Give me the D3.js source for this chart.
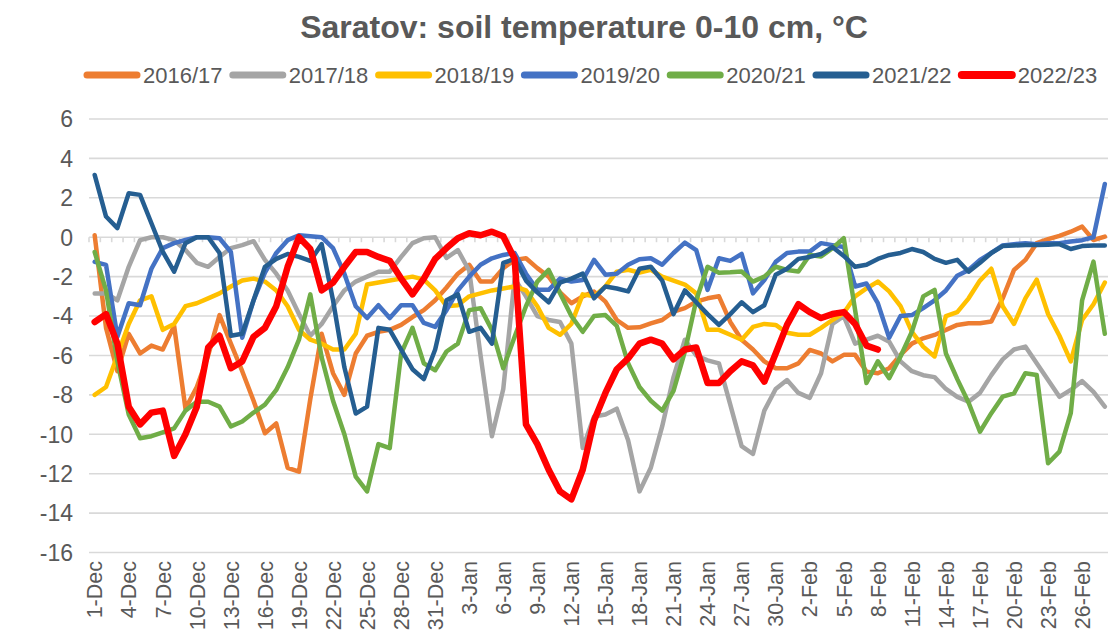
<!DOCTYPE html>
<html>
<head>
<meta charset="utf-8">
<script src="https://cdn.jsdelivr.net/npm/d3@7"></script>
<style>
  body { margin: 0; background: #fff; }
  svg { display: block; font-family: "Liberation Sans", Arial, sans-serif; }
</style>
</head>
<body>
<svg id="chart" width="1108" height="635"></svg>
<script>
// Saratov soil temperature 0-10 cm, daily values Dec-Feb per season

var seasons = ["2016/17", "2017/18", "2018/19", "2019/20", "2020/21", "2021/22", "2022/23"];
var colors = ["#ED7D31", "#A5A5A5", "#FFC000", "#4472C4", "#70AD47", "#255E91", "#FF0000"];

var s1617 = [0.1,-4.6,-6.8,-4.9,-5.9,-5.5,-5.7,-4.5,-8.7,-7.6,
  -6.0,-3.95,-5.4,-6.8,-8.3,-9.95,-9.45,-11.7,-11.9,-8.2,
  -4.9,-6.9,-8.0,-5.9,-5.0,-4.8,-4.7,-4.45,-4.05,-3.7,
  -3.2,-2.55,-1.85,-1.4,-2.25,-2.25,-1.57,-1.15,-1.07,-1.57,
  -2.0,-2.8,-3.35,-3.0,-2.76,-3.27,-4.2,-4.6,-4.57,-4.37,
  -4.2,-3.78,-3.6,-3.27,-3.1,-3.0,-4.3,-5.2,-5.7,-6.3,
  -6.65,-6.65,-6.4,-5.72,-5.9,-6.3,-5.97,-5.97,-6.82,-6.9,
  -6.65,-5.97,-5.4,-5.13,-4.96,-4.7,-4.45,-4.37,-4.37,-4.28,
  -3.1,-1.66,-1.15,-0.3,-0.1,0.07,0.28,0.54,-0.14,0.03];

var s1718 = [-2.85,-2.85,-3.2,-1.5,-0.15,0.0,0.0,-0.15,-0.65,-1.3,
  -1.5,-1.0,-0.55,-0.4,-0.2,-1.15,-1.85,-2.7,-3.9,-5.0,
  -4.4,-3.5,-2.7,-2.25,-2.0,-1.75,-1.75,-1.0,-0.3,-0.05,
  0.0,-1.05,-0.65,-1.7,-6.0,-10.1,-7.7,-2.1,-3.0,-4.0,
  -4.2,-4.3,-5.4,-10.7,-9.1,-9.0,-8.7,-10.3,-12.9,-11.7,
  -9.6,-7.1,-5.2,-6.0,-6.25,-6.4,-8.5,-10.6,-11.0,-8.8,
  -7.7,-7.25,-7.9,-8.15,-6.9,-4.4,-4.0,-5.4,-5.2,-5.0,
  -5.3,-6.3,-6.8,-7.0,-7.1,-7.7,-8.1,-8.35,-7.9,-7.0,
  -6.2,-5.7,-5.55,-6.4,-7.25,-8.1,-7.75,-7.3,-7.85,-8.6];

var s1819 = [-8.0,-7.6,-6.0,-4.4,-3.2,-3.0,-4.7,-4.4,-3.5,-3.35,
  -3.1,-2.85,-2.5,-2.2,-2.1,-2.25,-2.7,-3.5,-4.7,-5.2,
  -5.4,-5.7,-5.7,-4.9,-2.4,-2.3,-2.2,-2.1,-2.0,-2.15,
  -2.7,-3.5,-3.45,-3.0,-2.85,-2.7,-2.6,-2.5,-2.7,-3.5,
  -4.6,-4.95,-4.4,-2.9,-3.0,-2.5,-1.75,-1.65,-1.8,-1.65,
  -2.0,-2.2,-2.4,-2.85,-4.7,-4.7,-4.95,-5.2,-4.55,-4.4,
  -4.45,-4.85,-4.95,-4.95,-4.6,-4.2,-3.85,-3.0,-2.6,-2.25,
  -2.75,-3.5,-4.8,-5.55,-6.05,-4.0,-3.8,-3.1,-2.2,-1.6,
  -3.5,-4.4,-3.1,-2.15,-3.9,-5.0,-6.3,-4.2,-3.4,-2.3];

var s1920 = [-1.25,-1.4,-5.05,-3.35,-3.45,-1.6,-0.55,-0.3,-0.14,0.0,
  0.0,-0.05,-0.75,-5.1,-3.2,-1.8,-0.8,-0.15,0.1,0.05,
  0.0,-0.55,-1.85,-3.5,-4.1,-3.45,-4.1,-3.45,-3.45,-4.35,
  -4.55,-3.7,-2.7,-2.0,-1.4,-1.07,-0.9,-0.8,-1.85,-2.67,
  -2.67,-2.1,-2.25,-2.17,-1.15,-1.9,-1.85,-1.4,-1.12,-1.07,
  -1.4,-0.8,-0.27,-0.65,-2.67,-1.07,-1.2,-0.85,-2.85,-2.17,
  -1.25,-0.8,-0.73,-0.73,-0.3,-0.4,-0.5,-2.5,-2.35,-3.35,
  -5.1,-4.0,-3.95,-3.6,-3.2,-2.7,-1.95,-1.66,-1.15,-0.8,
  -0.42,-0.35,-0.3,-0.35,-0.3,-0.3,-0.22,-0.15,0.0,2.7];

var s2021 = [-0.75,-2.7,-6.3,-9.0,-10.2,-10.1,-9.9,-9.7,-8.8,-8.35,
  -8.35,-8.6,-9.6,-9.35,-8.9,-8.5,-7.75,-6.6,-5.2,-2.9,
  -6.1,-8.3,-10.0,-12.15,-12.9,-10.5,-10.7,-5.9,-4.6,-6.4,
  -6.75,-5.8,-5.4,-3.7,-3.6,-4.7,-6.65,-5.05,-3.5,-2.25,
  -1.66,-2.84,-4.0,-4.8,-4.0,-3.95,-4.5,-6.4,-7.6,-8.3,
  -8.8,-7.8,-5.8,-3.2,-1.5,-1.8,-1.78,-1.74,-2.25,-2.0,
  -1.5,-1.66,-1.74,-0.9,-0.98,-0.56,-0.05,-3.7,-7.4,-6.3,
  -7.15,-6.05,-4.8,-3.0,-2.67,-5.9,-7.2,-8.4,-9.87,-8.93,
  -8.09,-7.92,-6.9,-6.99,-11.47,-10.88,-8.93,-3.2,-1.24,-4.9];

var s2122 = [3.16,1.05,0.46,2.23,2.15,0.71,-0.73,-1.75,-0.3,0.0,
  0.0,-0.8,-5.0,-4.9,-3.2,-1.5,-1.1,-0.85,-1.0,-1.2,
  -0.35,-3.2,-6.6,-8.95,-8.6,-4.6,-4.7,-5.7,-6.7,-7.2,
  -5.7,-3.2,-2.9,-4.8,-4.6,-5.4,-1.3,-1.1,-2.2,-2.8,
  -3.3,-2.3,-2.1,-1.85,-3.1,-2.5,-2.6,-2.75,-1.6,-1.5,
  -2.2,-3.9,-2.7,-3.3,-3.9,-4.45,-3.9,-3.3,-3.8,-3.45,
  -1.9,-1.6,-1.1,-1.0,-0.85,-0.5,-0.95,-1.5,-1.4,-1.1,
  -0.9,-0.8,-0.6,-0.75,-1.1,-1.3,-1.15,-1.75,-1.3,-0.8,
  -0.45,-0.42,-0.4,-0.4,-0.38,-0.35,-0.6,-0.45,-0.42,-0.42];

var s2223 = [-4.3,-3.9,-5.4,-8.6,-9.5,-8.9,-8.8,-11.1,-10.0,-8.6,
  -5.6,-5.0,-6.65,-6.3,-5.05,-4.6,-3.5,-1.5,0.0,-0.6,
  -2.7,-2.3,-1.5,-0.75,-0.75,-1.0,-1.2,-2.1,-2.9,-2.1,
  -1.1,-0.55,-0.05,0.2,0.1,0.28,0.05,-1.1,-9.5,-10.5,
  -11.8,-12.9,-13.3,-11.8,-9.3,-7.9,-6.7,-6.15,-5.4,-5.2,
  -5.4,-6.2,-5.7,-5.6,-7.4,-7.4,-6.8,-6.3,-6.5,-7.33,
  -5.9,-4.45,-3.4,-3.8,-4.1,-3.9,-3.8,-4.4,-5.5,-5.7];

var series = [s1617, s1718, s1819, s1920, s2021, s2122, s2223];

var yTicks = [6, 4, 2, 0, -2, -4, -6, -8, -10, -12, -14, -16];

// 1-Dec .. 28-Feb
var days = d3.timeDay.range(new Date(2017, 11, 1), new Date(2018, 2, 1));
var dayLabels = days.map(d3.timeFormat("%-d-%b"));

var svg = d3.select("#chart");
var textColor = "#595959";

var x = d3.scaleBand()
    .domain(d3.range(days.length))
    .range([89, 89 + 11.35 * days.length]);
var y = d3.scaleLinear().domain([-16, 6]).range([552.5, 119]);
var bw = x.bandwidth();

// Title
svg.append("text")
    .attr("x", 584)
    .attr("y", 38)
    .attr("text-anchor", "middle")
    .attr("font-size", "32px")
    .attr("font-weight", "bold")
    .attr("fill", textColor)
    .text("Saratov: soil temperature 0-10 cm, \u00B0C");

// Legend
var legend = svg.append("g").attr("class", "legend");
var item = legend.selectAll("g")
    .data(seasons)
    .enter()
    .append("g")
    .attr("transform", function(d, i) { return "translate(" + (84 + i * 145.8) + ",75)"; });
item.append("line")
    .attr("x1", 3).attr("x2", 53)
    .attr("y1", 0).attr("y2", 0)
    .attr("stroke", function(d, i) { return colors[i]; })
    .attr("stroke-width", function(d, i) { return i == 6 ? 8 : 7; })
    .attr("stroke-linecap", "round");
item.append("text")
    .attr("x", 59)
    .attr("y", 8)
    .attr("font-size", "22px")
    .attr("fill", textColor)
    .text(function(d) { return d; });

// Gridlines
svg.append("g").selectAll("line")
    .data(yTicks)
    .enter()
    .append("line")
    .attr("x1", x.range()[0])
    .attr("x2", x.range()[1])
    .attr("y1", function(d) { return y(d); })
    .attr("y2", function(d) { return y(d); })
    .attr("stroke", "#d9d9d9")
    .attr("stroke-width", 1.6);

// Y labels
svg.append("g").selectAll("text")
    .data(yTicks)
    .enter()
    .append("text")
    .attr("x", 73)
    .attr("y", function(d) { return y(d); })
    .attr("dy", "0.36em")
    .attr("text-anchor", "end")
    .attr("font-size", "23px")
    .attr("fill", textColor)
    .text(function(d) { return d; });

// Category tick marks on the zero line
svg.append("g").selectAll("line")
    .data(d3.range(days.length + 1))
    .enter()
    .append("line")
    .attr("x1", function(d) { return x.range()[0] + d * x.step(); })
    .attr("x2", function(d) { return x.range()[0] + d * x.step(); })
    .attr("y1", y(0))
    .attr("y2", y(0) + 5)
    .attr("stroke", "#d9d9d9")
    .attr("stroke-width", 1.6);

// X labels every 3 days
svg.append("g").selectAll("text")
    .data(d3.range(0, days.length, 3))
    .enter()
    .append("text")
    .attr("transform", function(d) { return "translate(" + (x(d) + bw / 2) + ",561) rotate(-90)"; })
    .attr("dy", "0.36em")
    .attr("text-anchor", "end")
    .attr("font-size", "21.5px")
    .attr("fill", textColor)
    .text(function(d) { return dayLabels[d]; });

// Lines
var line = d3.line()
    .x(function(d, i) { return x(i) + bw / 2; })
    .y(function(d) { return y(d); });

svg.append("g").selectAll("path")
    .data(series)
    .enter()
    .append("path")
    .attr("d", line)
    .attr("fill", "none")
    .attr("stroke", function(d, i) { return colors[i]; })
    .attr("stroke-width", function(d, i) { return i == 6 ? 6.5 : 4.5; })
    .attr("stroke-linejoin", "round")
    .attr("stroke-linecap", "round");
</script>
</body>
</html>
